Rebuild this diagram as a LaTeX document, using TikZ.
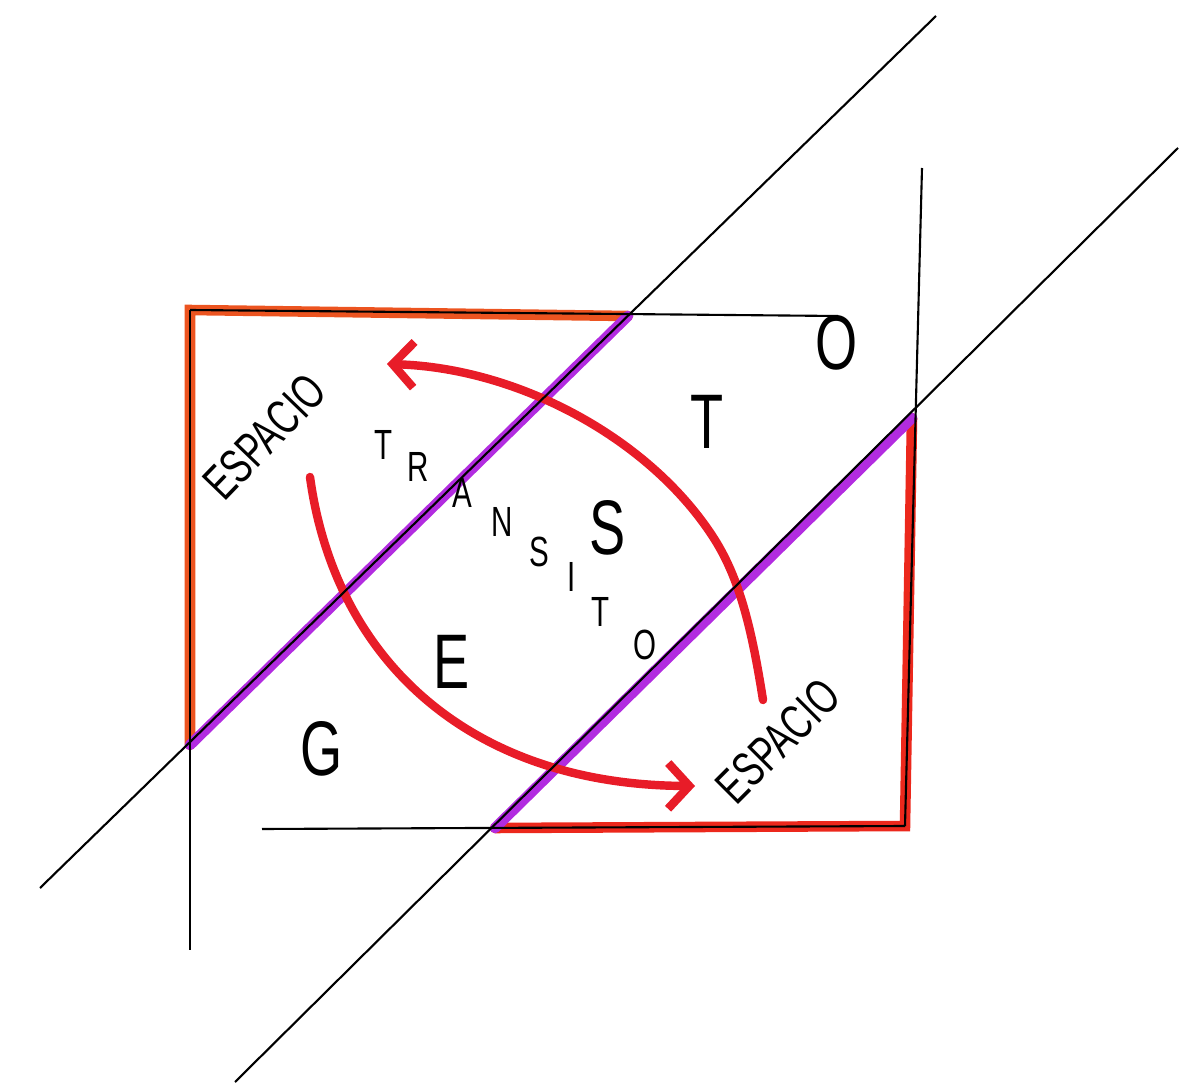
\documentclass[tikz,border=0pt]{standalone}
\usepackage{fontspec}
\newfontfamily\handfont[FakeStretch=0.7]{Liberation Sans}
\usetikzlibrary{arrows.meta}
\definecolor{boxorange}{RGB}{236,84,32}
\definecolor{boxred}{RGB}{236,40,28}
\definecolor{arcred}{RGB}{232,28,40}
\definecolor{lilac}{RGB}{178,44,224}
\tikzset{
  pen/.style={draw=black, line width=0.6pt},
  edge/.style={draw=boxred, line width=3pt, line cap=round},
  band/.style={draw=lilac, line width=3pt, line cap=round},
  swing/.style={draw=arcred, line width=2.4pt, line cap=round,
                -{Straight Barb[length=6pt, width=13pt]}},
  bigletter/.style={font=\handfont\fontsize{22}{22}\selectfont, inner sep=0pt},
  smallletter/.style={font=\handfont\fontsize{12}{12}\selectfont, inner sep=0pt},
  word/.style={font=\handfont\fontsize{14}{14}\selectfont, inner sep=0pt},
}
\begin{document}
\begin{tikzpicture}[x=0.01cm, y=-0.01cm]
  \useasboundingbox (0,0) rectangle (1184,1088);

  % Corners and crossings
  \coordinate (tl) at (190,310);
  \coordinate (tm) at (628,316);
  \coordinate (tr) at (838,316);
  \coordinate (bl) at (190,745);
  \coordinate (lb) at (190,950);
  \coordinate (bs) at (262,829);
  \coordinate (bm) at (495,828);
  \coordinate (br) at (905,826);
  \coordinate (rm) at (912,418);
  \coordinate (rt) at (922,168);
  \coordinate (l1a) at (40,888);
  \coordinate (l1b) at (936,16);
  \coordinate (l2a) at (235,1082);
  \coordinate (l2b) at (1178,148);

  % Frame
  \draw[edge, draw=boxorange] (bl) -- (tl) -- (tm);
  \draw[edge] (rm) -- (br) -- (bm);

  % Bands
  \draw[band] (bl) -- (tm);
  \draw[band] (bm) -- (rm);

  % Swings
  \coordinate (s1a) at (763,700);
  \coordinate (s1b) at (715,540);
  \coordinate (s1c) at (387,364);
  \coordinate (s2a) at (310,477);
  \coordinate (s2b) at (695,786);
  \draw[swing] (s1a) .. controls (752,630) and (740,580) .. (s1b)
               .. controls (652,440) and (520,368) .. (s1c);
  \draw[swing] (s2a) .. controls (335,660) and (470,785) .. (s2b);

  % Lines
  \draw[pen] (l1a) -- (l1b);
  \draw[pen] (l2a) -- (l2b);
  \draw[pen] (tl) -- (tr);
  \draw[pen] (tl) -- (lb);
  \draw[pen] (rt) -- (br);
  \draw[pen] (bs) -- (br);

  % Letters
  \node[bigletter] (o) at (837,343) {O};
  \node[bigletter] (t) at (707,422) {T};
  \node[bigletter] (s) at (608,528) {S};
  \node[bigletter] (e) at (452,662) {E};
  \node[bigletter] (g) at (322,749) {G};

  \node[smallletter] (tr1) at (384,445) {T};
  \node[smallletter] (tr2) at (418,467) {R};
  \node[smallletter] (tr3) at (462,493) {A};
  \node[smallletter] (tr4) at (502,522) {N};
  \node[smallletter] (tr5) at (539,552) {S};
  \node[smallletter] (tr6) at (572,577) {I};
  \node[smallletter] (tr7) at (601,612) {T};
  \node[smallletter] (tr8) at (645,645) {O};

  \node[word, rotate=46] (esp1) at (265,437) {ESPACIO};
  \node[word, rotate=45] (esp2) at (778,741) {ESPACIO};
\end{tikzpicture}
\end{document}
